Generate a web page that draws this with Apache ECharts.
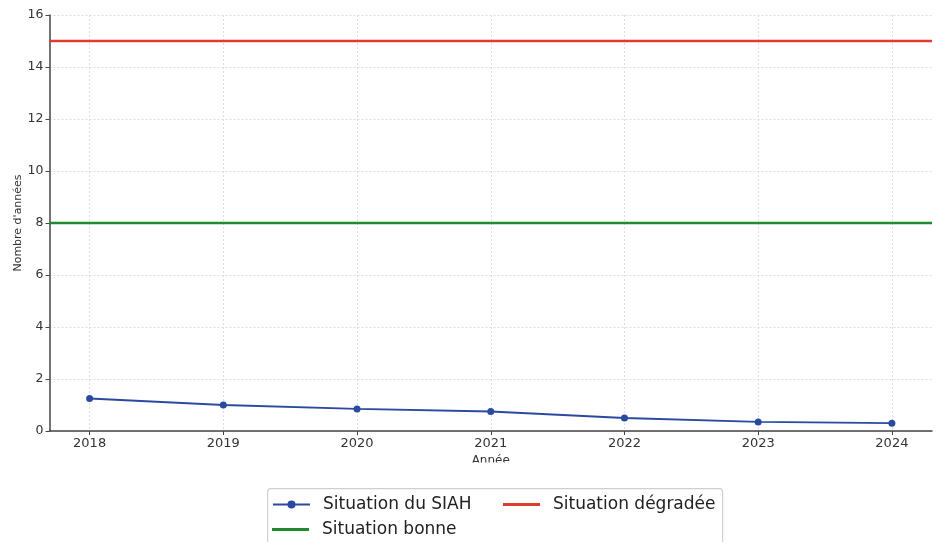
<!DOCTYPE html>
<html><head><meta charset="utf-8">
<script src="https://cdn.jsdelivr.net/npm/echarts@6/dist/echarts.min.js"></script>
<style>html,body{margin:0;padding:0;background:#fff}#c{width:941px;height:542px}</style>
</head><body><div id="c"></div>
<script>
const years = [2018, 2019, 2020, 2021, 2022, 2023, 2024];
const siah = [1.25, 1.0, 0.85, 0.75, 0.5, 0.35, 0.3];
const degradee = 15;
const bonne = 8;
const xMin = 2017.7, xMax = 2024.3;

const chart = echarts.init(document.getElementById('c'));
const font = 'DejaVu Sans';
const legText = { fontSize: 17, color: '#222', fontFamily: font, padding: [0, 0, 0, 8] };
const legBase = { orient: 'horizontal', padding: 0, itemWidth: 37, textStyle: legText };
chart.setOption({
  animation: false,
  textStyle: { fontFamily: font },
  grid: { left: 49.5, right: 9, top: 15, bottom: 111, containLabel: false, outerBoundsMode: 'none' },
  graphic: [
    {
      type: 'rect', left: 267, top: 488, z: -1,
      shape: { width: 455, height: 70, r: 3 },
      style: { fill: '#fff', stroke: '#cfcfcf', lineWidth: 1.2 }
    },
    {
      type: 'rect', left: 420, top: 462.5, z: 100,
      shape: { width: 140, height: 22 },
      style: { fill: '#fff' }
    }
  ],
  xAxis: {
    type: 'value', min: xMin, max: xMax,
    name: 'Année', nameLocation: 'middle', nameGap: 24, nameMoveOverlap: false,
    nameTextStyle: { fontSize: 12, color: '#333', fontFamily: font },
    axisLine: { lineStyle: { color: '#444', width: 1.5 } },
    axisTick: { show: true, customValues: years, length: 4, lineStyle: { color: '#444' } },
    axisLabel: { customValues: years, fontSize: 13, color: '#333', fontFamily: font, margin: 6, formatter: v => String(v) },
    splitLine: { show: true, lineStyle: { color: '#ddd', type: [2, 2], width: 1 } }
  },
  yAxis: {
    type: 'value', min: 0, max: 16, interval: 2,
    name: "Nombre d'années", nameLocation: 'middle', nameGap: 26, nameRotate: 90, nameMoveOverlap: false,
    nameTextStyle: { fontSize: 11, color: '#333', fontFamily: font },
    axisLine: { show: true, lineStyle: { color: '#444', width: 1.5 } },
    axisTick: { show: true, length: 4, lineStyle: { color: '#444' } },
    axisLabel: { fontSize: 12.5, color: '#333', fontFamily: font, margin: 6 },
    splitLine: { show: true, lineStyle: { color: '#ddd', type: [2, 2], width: 1 } }
  },
  legend: [
    Object.assign({}, legBase, { left: 272, top: 496, itemHeight: 10, data: ['Situation du SIAH'] }),
    Object.assign({}, legBase, { left: 503, top: 496, itemHeight: 3, data: [{ name: 'Situation dégradée', icon: 'rect' }] }),
    Object.assign({}, legBase, { left: 272, top: 521, itemHeight: 3, data: [{ name: 'Situation bonne', icon: 'rect' }] })
  ],
  series: [
    {
      name: 'Situation du SIAH', type: 'line',
      data: years.map((y, i) => [y, siah[i]]),
      symbol: 'circle', symbolSize: 7,
      itemStyle: { color: '#2a4aa0' }, lineStyle: { color: '#2a4aa0', width: 1.8 }
    },
    {
      name: 'Situation dégradée', type: 'line',
      data: [[xMin, degradee], [xMax, degradee]], symbol: 'none',
      itemStyle: { color: '#e23b2e' }, lineStyle: { color: '#e23b2e', width: 2.5 }
    },
    {
      name: 'Situation bonne', type: 'line',
      data: [[xMin, bonne], [xMax, bonne]], symbol: 'none',
      itemStyle: { color: '#218a2f' }, lineStyle: { color: '#218a2f', width: 2.5 }
    }
  ]
});
</script></body></html>
